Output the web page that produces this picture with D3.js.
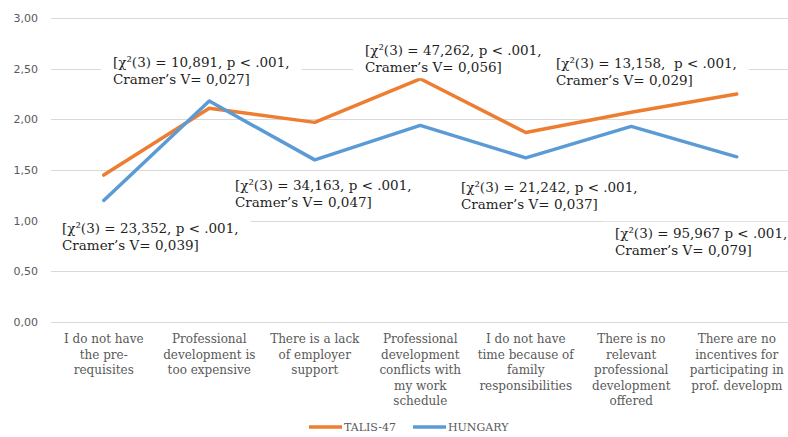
<!DOCTYPE html>
<html>
<head>
<meta charset="utf-8">
<script src="https://cdn.jsdelivr.net/npm/d3@7"></script>
<style>
  html, body { margin: 0; padding: 0; background: #fff; }
  svg { display: block; }
  svg text { white-space: pre; }
</style>
</head>
<body>
<svg id="chart" width="788" height="437"></svg>
<script>
// categories (pre-wrapped as in the original axis)
const categories = [
  ["I do not have", "the pre-", "requisites"],
  ["Professional", "development is", "too expensive"],
  ["There is a lack", "of employer", "support"],
  ["Professional", "development", "conflicts with", "my work", "schedule"],
  ["I do not have", "time because of", "family", "responsibilities"],
  ["There is no", "relevant", "professional", "development", "offered"],
  ["There are no", "incentives for", "participating in", "prof. developm"]
];

const talis = [1.45, 2.11, 1.97, 2.40, 1.87, 2.07, 2.25];
const hungary = [1.20, 2.18, 1.60, 1.94, 1.62, 1.93, 1.63];

const yTicks = [0, 0.5, 1, 1.5, 2, 2.5, 3];

// statistic call-outs, one per category
const notes = [
  { lines: ["[χ²(3) = 23,352, p < .001,", "Cramer’s V= 0,039]"] },
  { lines: ["[χ²(3) = 10,891, p < .001,", "Cramer’s V= 0,027]"] },
  { lines: ["[χ²(3) = 34,163, p < .001,", "Cramer’s V= 0,047]"] },
  { lines: ["[χ²(3) = 47,262, p < .001,", "Cramer’s V= 0,056]"] },
  { lines: ["[χ²(3) = 21,242, p < .001,", "Cramer’s V= 0,037]"] },
  { lines: ["[χ²(3) = 13,158,  p < .001,", "Cramer’s V= 0,029]"] },
  { lines: ["[χ²(3) = 95,967 p < .001,", "Cramer’s V= 0,079]"] }
];
// where each call-out box sits (left x, first-line centre y)
const notePos = [[62, 228], [113, 62], [235, 185], [365, 50], [461, 187], [556, 63], [615, 233]];

const series = [
  { name: "TALIS-47", values: talis, color: "#ED7D31" },
  { name: "HUNGARY", values: hungary, color: "#5B9BD5" }
];

const svg = d3.select("#chart");
const margin = { top: 18, right: 0, bottom: 115, left: 51 };
const W = 788, H = 437;

const x = d3.scaleBand()
  .domain(d3.range(categories.length))
  .range([margin.left, margin.left + 7 * 105.5])
  .paddingInner(0).paddingOuter(0);

const y = d3.scaleLinear()
  .domain([0, 3])
  .range([H - margin.bottom, margin.top]);

const axisFont = "'DejaVu Sans', Verdana, sans-serif";
const serif = "'DejaVu Serif', Cambria, serif";
const grey = "#595959";

// gridlines
svg.append("g")
  .selectAll("line")
  .data(yTicks)
  .join("line")
  .attr("x1", margin.left)
  .attr("x2", W)
  .attr("y1", d => Math.round(y(d)) + 0.5)
  .attr("y2", d => Math.round(y(d)) + 0.5)
  .attr("stroke", "#d9d9d9")
  .attr("stroke-width", 1);

// y tick labels
svg.append("g")
  .selectAll("text")
  .data(yTicks)
  .join("text")
  .attr("x", 38)
  .attr("y", d => y(d))
  .attr("dy", "0.35em")
  .attr("text-anchor", "end")
  .attr("font-family", axisFont)
  .attr("font-size", 11)
  .attr("fill", grey)
  .text(d => d3.format(".2f")(d).replace(".", ","));

// category labels
const cx = i => x(i) + x.bandwidth() / 2;
const catG = svg.append("g")
  .selectAll("text")
  .data(categories)
  .join("text")
  .attr("text-anchor", "middle")
  .attr("font-family", serif)
  .attr("font-size", 12)
  .attr("fill", grey);
catG.selectAll("tspan")
  .data((d, i) => d.map(l => ({ l, i })))
  .join("tspan")
  .attr("x", d => cx(d.i))
  .attr("y", (d, j) => 339 + j * 15.5)
  .attr("dy", "0.35em")
  .text(d => d.l);

// lines
const line = d3.line()
  .x((d, i) => cx(i))
  .y(d => y(d));

svg.append("g")
  .selectAll("path")
  .data(series)
  .join("path")
  .attr("d", d => line(d.values))
  .attr("fill", "none")
  .attr("stroke", d => d.color)
  .attr("stroke-width", 3.5)
  .attr("stroke-linejoin", "round")
  .attr("stroke-linecap", "round");

// call-outs with white boxes
const noteG = svg.append("g")
  .selectAll("g")
  .data(notes)
  .join("g")
  .attr("transform", (d, i) => `translate(${notePos[i][0]},${notePos[i][1]})`);

const noteText = noteG.append("text")
  .attr("font-family", serif)
  .attr("font-size", 13.5)
  .attr("fill", "#1f1f1f");
noteText.selectAll("tspan")
  .data(d => d.lines)
  .join("tspan")
  .attr("x", 0)
  .attr("y", (d, j) => j * 17.5)
  .attr("dy", "0.35em")
  .text(d => d);

noteG.each(function () {
  const g = d3.select(this);
  const bb = g.select("text").node().getBBox();
  g.insert("rect", "text")
    .attr("x", bb.x - 12)
    .attr("y", bb.y - 3)
    .attr("width", bb.width + 24)
    .attr("height", bb.height + 6)
    .attr("fill", "#fff");
});

// legend
const legend = svg.append("g")
  .selectAll("g")
  .data(series)
  .join("g")
  .attr("transform", (d, i) => `translate(${[309, 413][i]},427)`);
legend.append("line")
  .attr("x1", 0).attr("x2", 33)
  .attr("stroke", d => d.color)
  .attr("stroke-width", 3.5);
legend.append("text")
  .attr("x", 35)
  .attr("dy", "0.35em")
  .attr("font-family", serif)
  .attr("font-size", 11)
  .attr("fill", grey)
  .text(d => d.name);
</script>
</body>
</html>
